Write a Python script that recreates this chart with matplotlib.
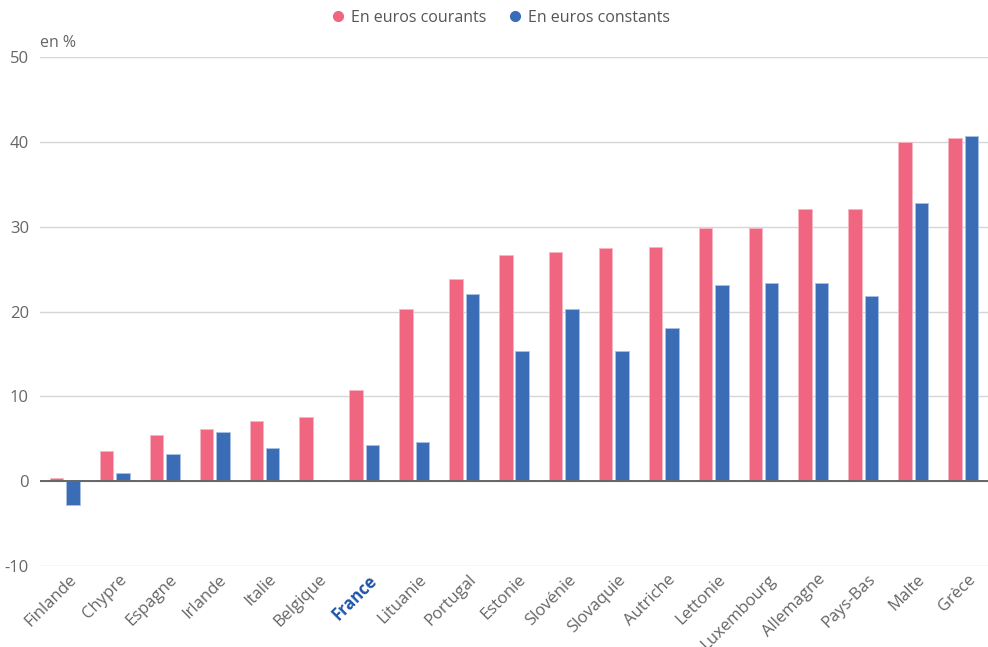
import matplotlib
matplotlib.use("Agg")
import matplotlib.pyplot as plt
import numpy as np

pays = ["Finlande", "Chypre", "Espagne", "Irlande", "Italie", "Belgique", "France",
        "Lituanie", "Portugal", "Estonie", "Slovénie", "Slovaquie", "Autriche",
        "Lettonie", "Luxembourg", "Allemagne", "Pays-Bas", "Malte", "Grèce"]
courants = [0.4, 3.6, 5.4, 6.2, 7.1, 7.6, 10.8, 20.3, 23.85, 26.7, 27.05, 27.45,
            27.55, 29.9, 29.9, 32.05, 32.1, 40.0, 40.45]
constants = [-2.8, 1.0, 3.2, 5.8, 3.9, 0.15, 4.3, 4.6, 22.1, 15.35, 20.3, 15.35,
             18.05, 23.1, 23.4, 23.4, 21.85, 32.8, 40.7]
yticks = [-10, 0, 10, 20, 30, 40, 50]

rose = "#F0657F"
bleu = "#3A6DB6"
gris = "#666666"

plt.rcParams["font.family"] = ["Open Sans", "DejaVu Sans"]

fig = plt.figure(figsize=(9.88, 6.47), dpi=100)
ax = fig.add_axes([40 / 988, 1 - 566 / 647, 948 / 988, (566 - 57) / 647])

x = np.arange(len(pays))
w = 0.27
ax.bar(x - 0.165, courants, width=w, color=rose, edgecolor="#f8b6c3", linewidth=0.6,
       label="En euros courants", zorder=3)
ax.bar(x + 0.165, constants, width=w, color=bleu, edgecolor="#a9c0e4", linewidth=0.6,
       label="En euros constants", zorder=3)

ax.set_xlim(-0.5, len(pays) - 0.5)
ax.set_ylim(-10, 50)
ax.set_yticks(yticks)
ax.set_yticklabels([str(v) for v in yticks])
ax.yaxis.grid(True, color="#d6d6d6", linewidth=1, zorder=0)
ax.axhline(0, color=gris, linewidth=1.4, zorder=4)
for s in ax.spines.values():
    s.set_visible(False)
ax.tick_params(axis="y", length=0, pad=8, labelsize=12, labelcolor=gris)
ax.tick_params(axis="x", length=0, pad=4, labelsize=12, labelcolor=gris)

ax.set_xticks(x + 0.08)
ax.set_xticklabels(pays, rotation=45, ha="right", rotation_mode="anchor")
for lab in ax.get_xticklabels():
    if lab.get_text() == "France":
        lab.set_color("#1F55A8")
        lab.set_fontweight("bold")

fig.text(40 / 988, 1 - 43 / 647, "en %", fontsize=11.5, color=gris, va="center", ha="left")

h = [plt.Line2D([], [], marker="o", linestyle="", markersize=7, color=rose),
     plt.Line2D([], [], marker="o", linestyle="", markersize=7, color=bleu)]
fig.legend(h, ["En euros courants", "En euros constants"], loc="center",
           bbox_to_anchor=(500 / 988, 1 - 18 / 647), ncol=2, frameon=False,
           fontsize=11.5, labelcolor="#555555", handletextpad=0.3, columnspacing=1.3,
           handlelength=1.0)

fig.savefig("out.png", dpi=100)
